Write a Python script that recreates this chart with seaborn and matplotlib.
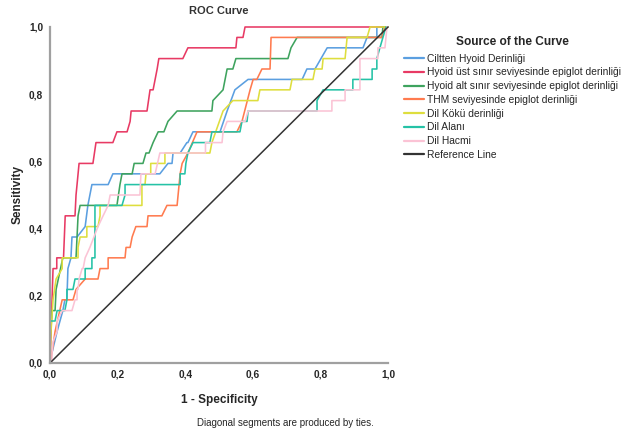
import numpy as np
import pandas as pd
import seaborn as sns
import matplotlib
matplotlib.use('Agg')
import matplotlib.pyplot as plt
from matplotlib.lines import Line2D

# curve names, in legend order
names = ['Ciltten Hyoid Derinliği',
         'Hyoid üst sınır seviyesinde epiglot derinliği',
         'Hyoid alt sınır seviyesinde epiglot derinliği',
         'THM seviyesinde epiglot derinliği',
         'Dil Kökü derinliği',
         'Dil Alanı',
         'Dil Hacmi']
colors = ['#5b9fe0', '#e83a64', '#3ea35e', '#ff7b4f', '#dede3e', '#25c2a6', '#fbc3d5']

# (1 - specificity, sensitivity)
blue_x = [0, 0.006, 0.021, 0.038, 0.044, 0.05, 0.053, 0.062, 0.065, 0.08, 0.104, 0.112, 0.124, 0.172, 0.186, 0.325,
          0.349, 0.361, 0.364, 0.385, 0.405, 0.408, 0.423, 0.503, 0.524, 0.547, 0.586, 0.746, 0.76, 0.784, 0.82,
          0.926, 0.938, 0.967, 0.967, 1.0]
blue_y = [0, 0.031, 0.094, 0.156, 0.188, 0.188, 0.281, 0.313, 0.375, 0.375, 0.406, 0.469, 0.531, 0.531, 0.563, 0.563,
          0.594, 0.594, 0.625, 0.625, 0.656, 0.656, 0.688, 0.688, 0.75, 0.813, 0.844, 0.844, 0.875, 0.875, 0.938,
          0.938, 0.969, 0.969, 1.0, 1.0]

red_x = [0, 0.006, 0.009, 0.02, 0.02, 0.04, 0.045, 0.074, 0.077, 0.08, 0.086, 0.127, 0.136, 0.186, 0.198, 0.228,
         0.237, 0.24, 0.287, 0.296, 0.305, 0.317, 0.322, 0.393, 0.408, 0.55, 0.553, 0.571, 0.577, 1.0]
red_y = [0, 0.188, 0.281, 0.281, 0.313, 0.313, 0.438, 0.438, 0.5, 0.531, 0.594, 0.594, 0.656, 0.656, 0.688, 0.688,
         0.719, 0.75, 0.75, 0.813, 0.813, 0.875, 0.906, 0.906, 0.938, 0.938, 0.969, 0.969, 1.0, 1.0]

green_x = [0, 0, 0.006, 0.015, 0.018, 0.038, 0.077, 0.083, 0.089, 0.198, 0.207, 0.213, 0.243, 0.249, 0.275, 0.284,
           0.293, 0.305, 0.32, 0.337, 0.349, 0.376, 0.479, 0.482, 0.512, 0.524, 0.541, 0.55, 0.704, 0.713, 0.731,
           0.982, 0.985, 1.0]
green_y = [0, 0.063, 0.156, 0.156, 0.219, 0.313, 0.313, 0.438, 0.469, 0.469, 0.531, 0.563, 0.563, 0.594, 0.594, 0.625,
           0.625, 0.656, 0.688, 0.688, 0.719, 0.75, 0.75, 0.781, 0.813, 0.875, 0.875, 0.906, 0.906, 0.938, 0.969,
           0.969, 1.0, 1.0]

orange_x = [0, 0.006, 0.015, 0.036, 0.068, 0.077, 0.104, 0.142, 0.148, 0.172, 0.172, 0.222, 0.225, 0.237, 0.243,
            0.254, 0.287, 0.29, 0.331, 0.346, 0.376, 0.385, 0.391, 0.408, 0.435, 0.553, 0.568, 0.592, 0.601, 0.612,
            0.627, 0.651, 0.654, 0.982, 0.991, 1.0]
orange_y = [0, 0.031, 0.094, 0.188, 0.188, 0.219, 0.25, 0.25, 0.281, 0.281, 0.313, 0.313, 0.344, 0.344, 0.375,
            0.406, 0.406, 0.438, 0.438, 0.469, 0.469, 0.563, 0.594, 0.625, 0.688, 0.688, 0.719, 0.813, 0.844, 0.844,
            0.875, 0.875, 0.969, 0.969, 1.0, 1.0]

yellow_x = [0, 0.003, 0.009, 0.018, 0.036, 0.036, 0.083, 0.083, 0.089, 0.109, 0.109, 0.142, 0.148, 0.148, 0.272,
            0.272, 0.281, 0.284, 0.298, 0.298, 0.34, 0.34, 0.473, 0.479, 0.512, 0.541, 0.615, 0.621, 0.71, 0.716,
            0.778, 0.784, 0.805, 0.808, 0.873, 0.879, 0.938, 0.947, 1.0]
yellow_y = [0, 0.094, 0.188, 0.25, 0.281, 0.313, 0.313, 0.344, 0.375, 0.375, 0.406, 0.406, 0.438, 0.469, 0.469,
            0.531, 0.531, 0.563, 0.563, 0.594, 0.594, 0.625, 0.625, 0.656, 0.75, 0.781, 0.781, 0.813, 0.813, 0.844,
            0.844, 0.875, 0.875, 0.906, 0.906, 0.969, 0.969, 1.0, 1.0]

teal_x = [0, 0, 0, 0.015, 0.021, 0.044, 0.05, 0.05, 0.068, 0.074, 0.104, 0.104, 0.124, 0.124, 0.133, 0.133, 0.213,
          0.222, 0.222, 0.385, 0.385, 0.399, 0.402, 0.408, 0.423, 0.473, 0.479, 0.562, 0.568, 0.583, 0.586, 0.79,
          0.79, 0.808, 0.896, 0.896, 0.953, 0.953, 0.967, 0.967, 0.976, 0.985, 0.994, 1.0]
teal_y = [0, 0.063, 0.125, 0.125, 0.156, 0.156, 0.188, 0.219, 0.219, 0.25, 0.25, 0.281, 0.281, 0.313, 0.313, 0.469,
          0.469, 0.5, 0.531, 0.531, 0.563, 0.563, 0.594, 0.625, 0.656, 0.656, 0.688, 0.688, 0.719, 0.719, 0.75, 0.75,
          0.781, 0.813, 0.813, 0.844, 0.844, 0.875, 0.875, 0.906, 0.938, 0.969, 1.0, 1.0]

pink_x = [0, 0.006, 0.006, 0.009, 0.021, 0.021, 0.036, 0.065, 0.074, 0.08, 0.08, 0.083, 0.086, 0.095, 0.098, 0.104,
          0.118, 0.142, 0.157, 0.172, 0.178, 0.266, 0.269, 0.311, 0.325, 0.46, 0.46, 0.509, 0.512, 0.524, 0.577,
          0.586, 0.834, 0.834, 0.873, 0.873, 0.917, 0.917, 0.97, 0.97, 0.991, 0.997, 1.0]
pink_y = [0, 0, 0.031, 0.063, 0.094, 0.125, 0.156, 0.156, 0.188, 0.188, 0.219, 0.219, 0.25, 0.281, 0.281, 0.313,
          0.344, 0.406, 0.438, 0.469, 0.5, 0.5, 0.563, 0.563, 0.625, 0.625, 0.656, 0.656, 0.688, 0.719, 0.719, 0.75,
          0.75, 0.781, 0.781, 0.813, 0.813, 0.906, 0.906, 0.938, 0.938, 1.0, 1.0]

ref_x = [0, 1]
ref_y = [0, 1]

ticks = [0, 0.2, 0.4, 0.6, 0.8, 1.0]
tick_labels = ['0,0', '0,2', '0,4', '0,6', '0,8', '1,0']

xs = [blue_x, red_x, green_x, orange_x, yellow_x, teal_x, pink_x]
ys = [blue_y, red_y, green_y, orange_y, yellow_y, teal_y, pink_y]
frames = []
for name, x, y in zip(names, xs, ys):
    frames.append(pd.DataFrame({'fpr': x, 'tpr': y, 'curve': name}))
roc_df = pd.concat(frames, ignore_index=True)

sns.set_style('white')
plt.rcParams['font.family'] = ['Liberation Sans', 'DejaVu Sans']

fig = plt.figure(figsize=(6.21, 4.34), dpi=100)
ax = fig.add_axes([50 / 621, 1 - 363 / 434, 338 / 621, 336 / 434])

sns.lineplot(data=roc_df, x='fpr', y='tpr', hue='curve', hue_order=names,
             palette=dict(zip(names, colors)), sort=False, estimator=None,
             linewidth=1.15, legend=False, ax=ax, clip_on=False)
ax.plot(ref_x, ref_y, color='#333333', linewidth=1.1, clip_on=False)

ax.set_xlim(0, 1)
ax.set_ylim(0, 1)
ax.set_xticks(ticks)
ax.set_yticks(ticks)
ax.set_xticklabels(tick_labels, fontsize=7.3, fontweight='bold')
ax.set_yticklabels(tick_labels, fontsize=7.3, fontweight='bold')
ax.tick_params(length=0, pad=5)
for s in ['top', 'right']:
    ax.spines[s].set_visible(False)
for s in ['left', 'bottom']:
    ax.spines[s].set_color('#a0a0a0')
    ax.spines[s].set_linewidth(1.6)

ax.set_xlabel('1 - Specificity', fontsize=8.5, fontweight='bold', labelpad=10)
ax.set_ylabel('Sensitivity', fontsize=8.5, fontweight='bold', labelpad=4)
ax.set_title('ROC Curve', fontsize=8, fontweight='bold', color='#333333', pad=9)

handles = [Line2D([], [], color=c, lw=1.6) for c in colors]
handles.append(Line2D([], [], color='#333333', lw=1.6))
leg = fig.legend(handles, names + ['Reference Line'], loc='upper left',
                 bbox_to_anchor=(404 / 621, 1 - 36 / 434), frameon=False,
                 fontsize=7.35, handlelength=2.0, handletextpad=0.25,
                 labelspacing=0.37, borderpad=0, borderaxespad=0,
                 title='Source of the Curve',
                 title_fontproperties={'weight': 'bold', 'size': 8.6})
leg._legend_box.sep = 4

fig.text(285 / 621, 1 - 423 / 434, 'Diagonal segments are produced by ties.',
         fontsize=7, ha='center', va='center')

fig.savefig('out.png', dpi=100)
